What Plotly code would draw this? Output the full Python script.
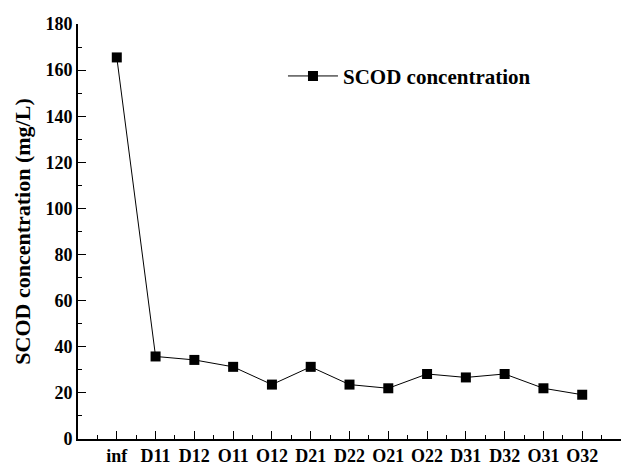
import plotly.graph_objects as go

categories = ["inf", "D11", "D12", "O11", "O12", "D21", "D22", "O21", "O22", "D31", "D32", "O31", "O32"]
scod = [165.5, 35.8, 34.3, 31.3, 23.6, 31.3, 23.6, 22.0, 28.2, 26.7, 28.2, 22.0, 19.2]
y_ticks = [0, 20, 40, 60, 80, 100, 120, 140, 160, 180]

x_idx = list(range(len(categories)))
FONT = "Liberation Serif"

fig = go.Figure()
fig.add_trace(go.Scatter(
    x=x_idx, y=scod, mode="lines+markers", name="<b>SCOD concentration</b>",
    line=dict(color="black", width=1),
    marker=dict(symbol="square", size=10, color="black"),
))

fig.update_layout(
    width=621, height=466,
    margin=dict(l=78, r=0, t=24, b=27),
    plot_bgcolor="white", paper_bgcolor="white",
    font=dict(family=FONT, color="black"),
    showlegend=True,
    legend=dict(x=0.3775, y=0.874, xanchor="left", yanchor="middle",
                font=dict(family=FONT, size=21, color="black"),
                bgcolor="rgba(0,0,0,0)", itemwidth=50),
)

fig.update_xaxes(
    range=[-1, 13], tickmode="array", tickvals=x_idx,
    ticktext=["<b>%s</b>" % c for c in categories],
    ticks="inside", ticklen=8, tickwidth=1.3, tickcolor="black",
    showline=True, linecolor="black", linewidth=1.6,
    showgrid=False, zeroline=False, automargin=False, ticklabelstandoff=0,
    tickfont=dict(family=FONT, size=18, color="black"),
    minor=dict(tick0=-0.5, dtick=1, ticks="inside", ticklen=4, tickwidth=1.3, tickcolor="black", showgrid=False),
)
fig.update_yaxes(
    range=[0, 180], tickmode="array", tickvals=y_ticks,
    ticktext=["<b>%d</b>" % v for v in y_ticks],
    ticks="inside", ticklen=8, tickwidth=1.3, tickcolor="black",
    showline=True, linecolor="black", linewidth=1.6,
    showgrid=False, zeroline=False, automargin=False,
    tickfont=dict(family=FONT, size=18, color="black"),
    minor=dict(tick0=10, dtick=20, ticks="inside", ticklen=4, tickwidth=1.3, tickcolor="black", showgrid=False),
    title=dict(text="<b>SCOD concentration (mg/L)</b>", font=dict(family=FONT, size=22, color="black"), standoff=9),
)

fig.write_html("out.html")
